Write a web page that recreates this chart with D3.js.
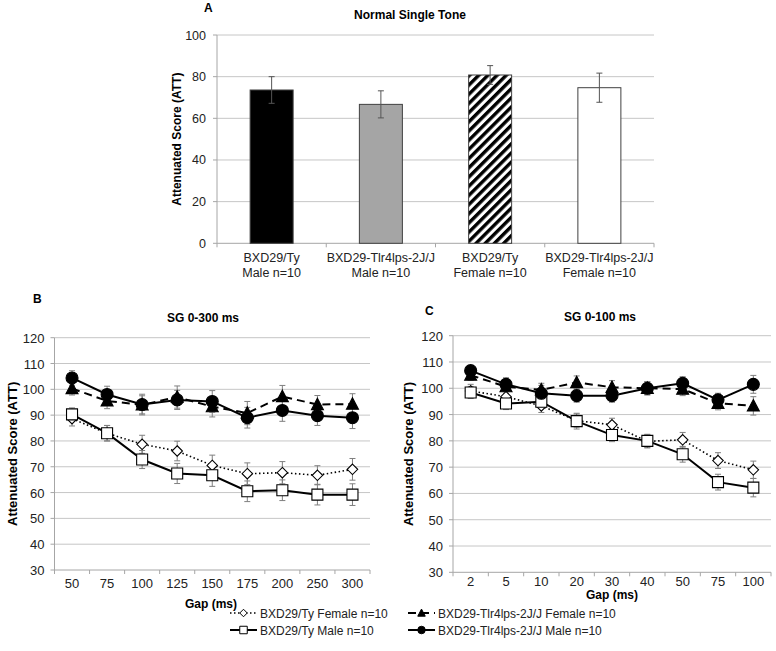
<!DOCTYPE html>
<html><head><meta charset="utf-8">
<script src="https://cdn.jsdelivr.net/npm/d3@7"></script>
<style>
html,body{margin:0;padding:0;background:#fff;}
text{font-family:"Liberation Sans",Arial,sans-serif;fill:#000;}
</style></head>
<body><svg id="c" width="776" height="651"></svg>
<script>
// ---------- DATA ----------
const barLine1 = ["BXD29/Ty", "BXD29-Tlr4lps-2J/J", "BXD29/Ty", "BXD29-Tlr4lps-2J/J"];
const barLine2 = ["Male n=10", "Male n=10", "Female n=10", "Female n=10"];
const barValues = [73.6, 66.7, 80.8, 74.7];
const barErrors = [6.4, 6.5, 4.5, 7.0];
const yTicksA = [0, 20, 40, 60, 80, 100];

const gapsB = ["50", "75", "100", "125", "150", "175", "200", "250", "300"];
const tyFemaleB = [88.6, 83.0, 78.7, 76.1, 70.5, 67.3, 67.7, 66.7, 69.0];
const tyFemaleBErr = [2.8, 3.0, 3.5, 3.8, 4.0, 4.2, 4.3, 3.7, 4.2];
const tyMaleB = [90.3, 83.0, 72.8, 67.4, 66.7, 60.5, 60.9, 59.2, 59.2];
const tyMaleBErr = [2.5, 3.0, 3.5, 3.9, 4.3, 4.0, 4.0, 4.0, 4.2];
const tlrFemaleB = [100.3, 95.5, 94.0, 97.0, 93.3, 90.8, 97.2, 94.1, 94.3];
const tlrFemaleBErr = [2.5, 3.0, 3.5, 4.3, 4.0, 4.5, 4.3, 3.5, 4.0];
const tlrMaleB = [104.4, 98.0, 94.1, 95.9, 95.3, 89.0, 91.8, 89.8, 89.0];
const tlrMaleBErr = [2.8, 3.2, 4.0, 3.7, 4.2, 4.0, 4.2, 3.8, 4.2];

const gapsC = ["2", "5", "10", "20", "30", "40", "50", "75", "100"];
const tyFemaleC = [99.0, 96.8, 93.3, 87.7, 86.1, 79.8, 80.4, 72.5, 69.0];
const tyFemaleCErr = [2.5, 2.5, 2.5, 2.5, 2.5, 2.5, 2.8, 3.0, 3.3];
const tyMaleC = [98.4, 94.2, 94.9, 87.5, 82.2, 80.0, 74.9, 64.3, 62.2];
const tyMaleCErr = [2.3, 2.3, 2.5, 3.0, 2.5, 2.5, 3.0, 3.0, 3.5];
const tlrFemaleC = [105.0, 100.6, 99.4, 102.2, 100.4, 100.0, 99.7, 94.3, 93.3];
const tlrFemaleCErr = [2.0, 2.5, 2.5, 2.5, 2.5, 2.5, 2.5, 2.5, 3.5];
const tlrMaleC = [106.7, 101.5, 98.1, 97.2, 97.2, 100.0, 101.9, 95.6, 101.5];
const tlrMaleCErr = [2.0, 2.5, 3.0, 2.5, 2.5, 2.5, 2.5, 2.5, 3.4];
const yTicksLine = [30, 40, 50, 60, 70, 80, 90, 100, 110, 120];

const legendLabels = ["BXD29/Ty Female n=10", "BXD29-Tlr4lps-2J/J  Female n=10", "BXD29/Ty Male n=10", "BXD29-Tlr4lps-2J/J Male n=10"];

// ---------- DRAW ----------
const svg = d3.select("#c");
const GRID = "#c6c6c6", AXIS = "#a6a6a6", ERR = "#7f7f7f";

const defs = svg.append("defs");
const pat = defs.append("pattern").attr("id", "stripes").attr("patternUnits", "userSpaceOnUse")
  .attr("width", 6.5).attr("height", 6.5).attr("patternTransform", "rotate(45)");
pat.append("rect").attr("width", 6.5).attr("height", 6.5).attr("fill", "#fff");
pat.append("rect").attr("width", 3.4).attr("height", 6.5).attr("fill", "#000");

// ===== Panel A =====
(function () {
  const x = d3.scaleBand().domain(d3.range(4)).range([217, 654]);
  const y = d3.scaleLinear().domain([0, 100]).range([243.3, 35]);
  const g = svg.append("g");
  g.selectAll("line.grid").data(yTicksA.slice(1)).join("line")
    .attr("x1", 217).attr("x2", 654).attr("y1", d => y(d)).attr("y2", d => y(d))
    .attr("stroke", GRID).attr("stroke-width", 1);
  g.append("line").attr("x1", 217).attr("x2", 217).attr("y1", y(100)).attr("y2", y(0)).attr("stroke", AXIS);
  g.append("line").attr("x1", 217).attr("x2", 654).attr("y1", y(0)).attr("y2", y(0)).attr("stroke", AXIS);
  g.selectAll("line.tk").data(d3.range(5)).join("line")
    .attr("x1", d => 217 + d * x.bandwidth()).attr("x2", d => 217 + d * x.bandwidth())
    .attr("y1", y(0)).attr("y2", y(0) + 4).attr("stroke", AXIS);
  g.selectAll("line.ytk").data(yTicksA).join("line")
    .attr("x1", 213).attr("x2", 217).attr("y1", d => y(d)).attr("y2", d => y(d)).attr("stroke", AXIS);
  g.selectAll("text.yl").data(yTicksA).join("text")
    .attr("x", 206).attr("y", d => y(d) + 4.5).attr("text-anchor", "end")
    .style("font-size", "12.5px").style("fill", "#222").text(d => d);
  const bw = 43;
  const fills = ["#000", "#a5a5a5", "url(#stripes)", "#fff"];
  g.selectAll("rect.bar").data(barValues).join("rect")
    .attr("x", (d, i) => x(i) + x.bandwidth() / 2 - bw / 2).attr("width", bw)
    .attr("y", d => y(d)).attr("height", d => y(0) - y(d))
    .attr("fill", (d, i) => fills[i]).attr("stroke", "#404040").attr("stroke-width", 1);
  barValues.forEach((v, i) => {
    const cx = x(i) + x.bandwidth() / 2;
    const e = barErrors[i];
    g.append("line").attr("x1", cx).attr("x2", cx).attr("y1", y(v + e)).attr("y2", y(v - e)).attr("stroke", "#555");
    [v + e, v - e].forEach(t => g.append("line").attr("x1", cx - 3).attr("x2", cx + 3).attr("y1", y(t)).attr("y2", y(t)).attr("stroke", "#555"));
  });
  g.selectAll("text.c1").data(barLine1).join("text")
    .attr("x", (d, i) => x(i) + x.bandwidth() / 2).attr("y", 262)
    .attr("text-anchor", "middle").style("font-size", "12.5px").style("fill", "#222").text(d => d);
  g.selectAll("text.c2").data(barLine2).join("text")
    .attr("x", (d, i) => x(i) + x.bandwidth() / 2).attr("y", 276.5)
    .attr("text-anchor", "middle").style("font-size", "12.5px").style("fill", "#222").text(d => d);
  g.append("text").attr("transform", `translate(181,${(y(0) + y(100)) / 2}) rotate(-90)`)
    .attr("text-anchor", "middle").style("font-size", "12px").style("font-weight", "bold").text("Attenuated Score (ATT)");
  g.append("text").attr("x", 410).attr("y", 19).attr("text-anchor", "middle")
    .style("font-size", "12px").style("font-weight", "bold").text("Normal Single Tone");
  g.append("text").attr("x", 204).attr("y", 12)
    .style("font-size", "12px").style("font-weight", "bold").text("A");
})();

// marker path generators (relative to 0,0)
function markerPath(type, s) {
  const h = s / 2;
  if (type === "circle") return d3.symbol(d3.symbolCircle, Math.PI * h * h)();
  if (type === "square") return `M${-h},${-h}H${h}V${h}H${-h}Z`;
  if (type === "diamond") return `M0,${-h}L${h},0L0,${h}L${-h},0Z`;
  if (type === "triangle") return `M0,${-h * 1.05}L${h},${h * 0.85}L${-h},${h * 0.85}Z`;
}

const seriesStyle = [
  { key: "tyFemale", dash: "1.5,2.5", width: 1.6, marker: "diamond", fill: "#fff", size: 10.5 },
  { key: "tlrFemale", dash: "8,5", width: 2, marker: "triangle", fill: "#000", size: 12 },
  { key: "tyMale", dash: null, width: 2, marker: "square", fill: "#fff", size: 11 },
  { key: "tlrMale", dash: null, width: 2, marker: "circle", fill: "#000", size: 12 }
];

function linePanel(opt) {
  const x = d3.scaleBand().domain(opt.cats).range([opt.x0, opt.x1]);
  const y = d3.scaleLinear().domain([30, 120]).range([opt.yb, opt.yt]);
  const g = svg.append("g");
  g.selectAll("line.grid").data(yTicksLine.slice(1)).join("line")
    .attr("x1", opt.x0).attr("x2", opt.x1).attr("y1", d => y(d)).attr("y2", d => y(d))
    .attr("stroke", GRID).attr("stroke-width", 1);
  g.append("line").attr("x1", opt.x0).attr("x2", opt.x0).attr("y1", y(120)).attr("y2", y(30)).attr("stroke", AXIS);
  g.append("line").attr("x1", opt.x0).attr("x2", opt.x1).attr("y1", y(30)).attr("y2", y(30)).attr("stroke", AXIS);
  g.selectAll("line.tk").data(d3.range(opt.cats.length + 1)).join("line")
    .attr("x1", d => opt.x0 + d * x.bandwidth()).attr("x2", d => opt.x0 + d * x.bandwidth())
    .attr("y1", y(30)).attr("y2", y(30) + 4).attr("stroke", AXIS);
  g.selectAll("line.ytk").data(yTicksLine).join("line")
    .attr("x1", opt.x0 - 4).attr("x2", opt.x0).attr("y1", d => y(d)).attr("y2", d => y(d)).attr("stroke", AXIS);
  g.selectAll("text.yl").data(yTicksLine).join("text")
    .attr("x", opt.x0 - 10).attr("y", d => y(d) + 5).attr("text-anchor", "end")
    .style("font-size", "13px").style("fill", "#222").text(d => d);
  g.selectAll("text.xl").data(opt.cats).join("text")
    .attr("x", d => x(d) + x.bandwidth() / 2).attr("y", opt.xly)
    .attr("text-anchor", "middle").style("font-size", "13px").style("fill", "#222").text(d => d);
  g.append("text").attr("transform", `translate(${opt.ytx},${(y(30) + y(120)) / 2}) rotate(-90)`)
    .attr("text-anchor", "middle").style("font-size", "13px").style("font-weight", "bold").text("Attenuated Score (ATT)");
  g.append("text").attr("x", opt.gx).attr("y", opt.gy).attr("text-anchor", "middle")
    .style("font-size", "12px").style("font-weight", "bold").text("Gap (ms)");
  g.append("text").attr("x", opt.tx).attr("y", opt.ty).attr("text-anchor", "middle")
    .style("font-size", "12px").style("font-weight", "bold").text(opt.title);
  g.append("text").attr("x", opt.lx).attr("y", opt.ly)
    .style("font-size", "12px").style("font-weight", "bold").text(opt.letter);

  const cx = (i) => x(opt.cats[i]) + x.bandwidth() / 2;
  // error bars
  seriesStyle.forEach(s => {
    const vals = opt.data[s.key], errs = opt.err[s.key];
    vals.forEach((v, i) => {
      const e = errs[i];
      g.append("line").attr("x1", cx(i)).attr("x2", cx(i)).attr("y1", y(v + e)).attr("y2", y(v - e)).attr("stroke", ERR);
      [v + e, v - e].forEach(t => g.append("line").attr("x1", cx(i) - 3).attr("x2", cx(i) + 3)
        .attr("y1", y(t)).attr("y2", y(t)).attr("stroke", ERR));
    });
  });
  // lines
  seriesStyle.forEach(s => {
    const vals = opt.data[s.key];
    g.append("path").datum(vals)
      .attr("d", d3.line().x((d, i) => cx(i)).y(d => y(d)))
      .attr("fill", "none").attr("stroke", "#000").attr("stroke-width", s.width)
      .attr("stroke-dasharray", s.dash);
  });
  // markers
  seriesStyle.forEach(s => {
    const vals = opt.data[s.key];
    g.selectAll(null).data(vals).join("path")
      .attr("transform", (d, i) => `translate(${cx(i)},${y(d)})`)
      .attr("d", markerPath(s.marker, s.size))
      .attr("fill", s.fill).attr("stroke", "#000").attr("stroke-width", 1.1);
  });
}

linePanel({
  cats: gapsB, x0: 54.5, x1: 370, yb: 570, yt: 337.7, xly: 588, ytx: 17,
  gx: 211, gy: 608, tx: 203, ty: 322, lx: 33, ly: 303, letter: "B", title: "SG 0-300 ms",
  data: { tyFemale: tyFemaleB, tyMale: tyMaleB, tlrFemale: tlrFemaleB, tlrMale: tlrMaleB },
  err: { tyFemale: tyFemaleBErr, tyMale: tyMaleBErr, tlrFemale: tlrFemaleBErr, tlrMale: tlrMaleBErr }
});
linePanel({
  cats: gapsC, x0: 453, x1: 771, yb: 572.3, yt: 335.7, xly: 586, ytx: 413,
  gx: 612, gy: 599, tx: 600, ty: 321, lx: 425, ly: 315, letter: "C", title: "SG 0-100 ms",
  data: { tyFemale: tyFemaleC, tyMale: tyMaleC, tlrFemale: tlrFemaleC, tlrMale: tlrMaleC },
  err: { tyFemale: tyFemaleCErr, tyMale: tyMaleCErr, tlrFemale: tlrFemaleCErr, tlrMale: tlrMaleCErr }
});

// ===== Legend =====
(function () {
  const items = [
    { s: seriesStyle[0], x: 230, y: 613, label: legendLabels[0] },
    { s: seriesStyle[1], x: 408, y: 613, label: legendLabels[1] },
    { s: seriesStyle[2], x: 230, y: 630, label: legendLabels[2] },
    { s: seriesStyle[3], x: 408, y: 630, label: legendLabels[3] }
  ];
  const g = svg.append("g");
  items.forEach(it => {
    g.append("line").attr("x1", it.x).attr("x2", it.x + 27).attr("y1", it.y).attr("y2", it.y)
      .attr("stroke", "#000").attr("stroke-width", it.s.width).attr("stroke-dasharray", it.s.dash);
    g.append("path").attr("transform", `translate(${it.x + 13.5},${it.y})`)
      .attr("d", markerPath(it.s.marker, 7.5)).attr("fill", it.s.fill).attr("stroke", "#000").attr("stroke-width", 1);
    g.append("text").attr("x", it.x + 30).attr("y", it.y + 4.5)
      .style("font-size", "12px").style("fill", "#222").text(it.label);
  });
})();
</script></body></html>
